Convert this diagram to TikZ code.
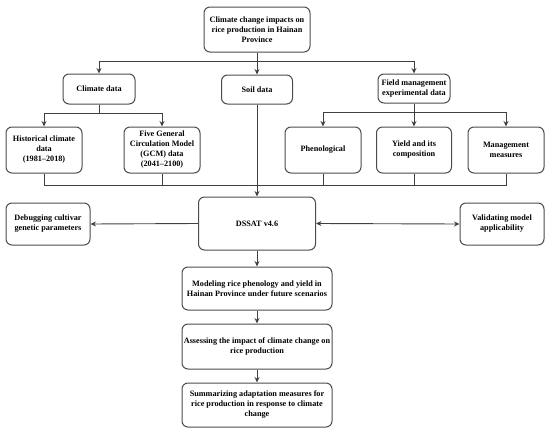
\documentclass[tikz,border=0pt]{standalone}
\usepackage{fontspec}
\setmainfont{Liberation Serif}
\usetikzlibrary{arrows.meta}
\begin{document}
\begin{tikzpicture}[x=1pt,y=-1pt,
  box/.style={draw=black!70, line width=1pt, rounded corners=6pt, align=center, inner sep=1pt,
    font=\fontsize{8.2}{10}\selectfont\bfseries, fill=white},
  conn/.style={draw=black!75, line width=0.9pt},
  arr/.style={conn, -{Stealth[length=5.5pt,width=5pt]}},
  darr/.style={conn, {Stealth[length=5.5pt,width=5pt]}-{Stealth[length=5.5pt,width=5pt]}}]
\useasboundingbox (0,0) rectangle (550,434);
\node[box, minimum width=106pt, minimum height=45pt] (top) at (257,29.5) {Climate change impacts on\\rice production in Hainan\\Province};
\node[box, minimum width=72pt, minimum height=30pt] (climate) at (99,89) {Climate data};
\node[box, minimum width=71pt, minimum height=29pt] (soil) at (257,89.5) {Soil data};
\node[box, minimum width=72pt, minimum height=29pt] (field) at (414,88.5) {Field management\\experimental data};
\node[box, minimum width=76pt, minimum height=46pt] (hist) at (44,150) {Historical climate\\data\\(1981–2018)};
\node[box, minimum width=76pt, minimum height=46pt] (gcm) at (162,150) {Five General\\Circulation Model\\(GCM) data\\(2041–2100)};
\node[box, minimum width=76pt, minimum height=46pt] (phen) at (323,150) {Phenological};
\node[box, minimum width=75pt, minimum height=46pt] (yield) at (414,150) {Yield and its\\composition};
\node[box, minimum width=76pt, minimum height=46pt] (mgmt) at (506,150) {Management\\measures};
\node[box, minimum width=117pt, minimum height=53pt] (dssat) at (257,223.5) {DSSAT v4.6};
\node[box, minimum width=84pt, minimum height=42pt] (debug) at (48,224) {Debugging cultivar\\genetic parameters};
\node[box, minimum width=84pt, minimum height=42pt] (valid) at (502,224) {Validating model\\applicability};
\node[box, minimum width=150pt, minimum height=43pt] (model) at (257,288.5) {Modeling rice phenology and yield in\\Hainan Province under future scenarios};
\node[box, minimum width=150pt, minimum height=45pt] (assess) at (257,346.5) {Assessing the impact of climate change on\\rice production};
\node[box, minimum width=150pt, minimum height=44pt] (summ) at (257,405) {Summarizing adaptation measures for\\rice production in response to climate\\change};
\coordinate (j1) at (257,61);
\coordinate (j2) at (99,113);
\coordinate (j3) at (414,112);
\coordinate (j4) at (257,185);
% top level
\draw[conn] (top.south) -- (j1);
\draw[conn] (climate.north |- j1) -- (field.north |- j1);
\draw[arr] (climate.north |- j1) -- (climate.north);
\draw[arr] (j1) -- (soil.north);
\draw[arr] (field.north |- j1) -- (field.north);
% climate branch
\draw[conn] (climate.south) -- (j2);
\draw[conn] (hist.north |- j2) -- (gcm.north |- j2);
\draw[arr] (hist.north |- j2) -- (hist.north);
\draw[arr] (gcm.north |- j2) -- (gcm.north);
% field branch
\draw[conn] (field.south) -- (j3);
\draw[conn] (phen.north |- j3) -- (mgmt.north |- j3);
\draw[arr] (phen.north |- j3) -- (phen.north);
\draw[arr] (j3) -- (yield.north);
\draw[arr] (mgmt.north |- j3) -- (mgmt.north);
% collect
\draw[conn] (hist.south) -- (hist.south |- j4) -- (mgmt.south |- j4) -- (mgmt.south);
\draw[conn] (gcm.south) -- (gcm.south |- j4);
\draw[conn] (phen.south) -- (phen.south |- j4);
\draw[conn] (yield.south) -- (yield.south |- j4);
\draw[arr] (soil.south) -- (dssat.north);
% dssat
\draw[arr] (dssat.west) -- (debug.east);
\draw[darr] (dssat.east) -- (valid.west);
\draw[arr] (dssat.south) -- (model.north);
\draw[arr] (model.south) -- (assess.north);
\draw[arr] (assess.south) -- (summ.north);
\end{tikzpicture}
\end{document}
